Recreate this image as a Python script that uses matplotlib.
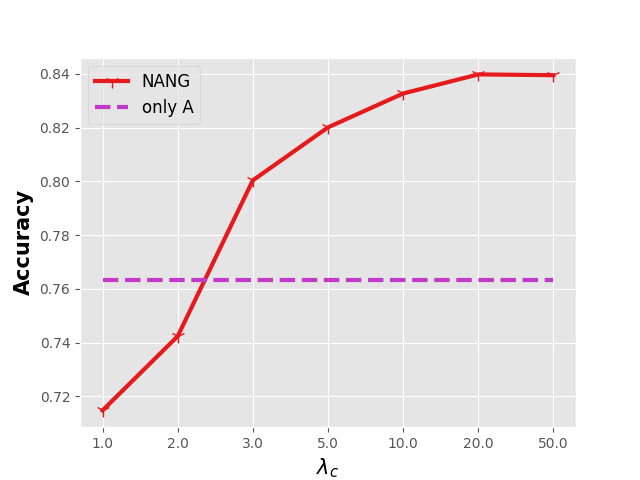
import matplotlib
matplotlib.use("Agg")
import matplotlib.pyplot as plt

plt.style.use("ggplot")

categories = ["1.0", "2.0", "3.0", "5.0", "10.0", "20.0", "50.0"]
nang = [0.7148, 0.7424, 0.8004, 0.8201, 0.8327, 0.8398, 0.8395]
only_a = 0.7634

fig, ax = plt.subplots(figsize=(6.4, 4.8), dpi=100)
x = list(range(len(categories)))
ax.plot(x, nang, color="#e41a1c", lw=3, marker="1", markersize=10, label="NANG")
ax.plot(x, [only_a] * len(x), color="#c238c8", lw=3, ls="--", label="only A")
ax.set_xticks(x)
ax.set_xticklabels(categories)
ax.set_xlabel(r"$\lambda_c$", fontsize=15, color="black")
ax.set_ylabel("Accuracy", fontsize=15, fontweight="bold", color="black")
ax.legend(loc="upper left", fontsize=12)
fig.savefig("out.png")
